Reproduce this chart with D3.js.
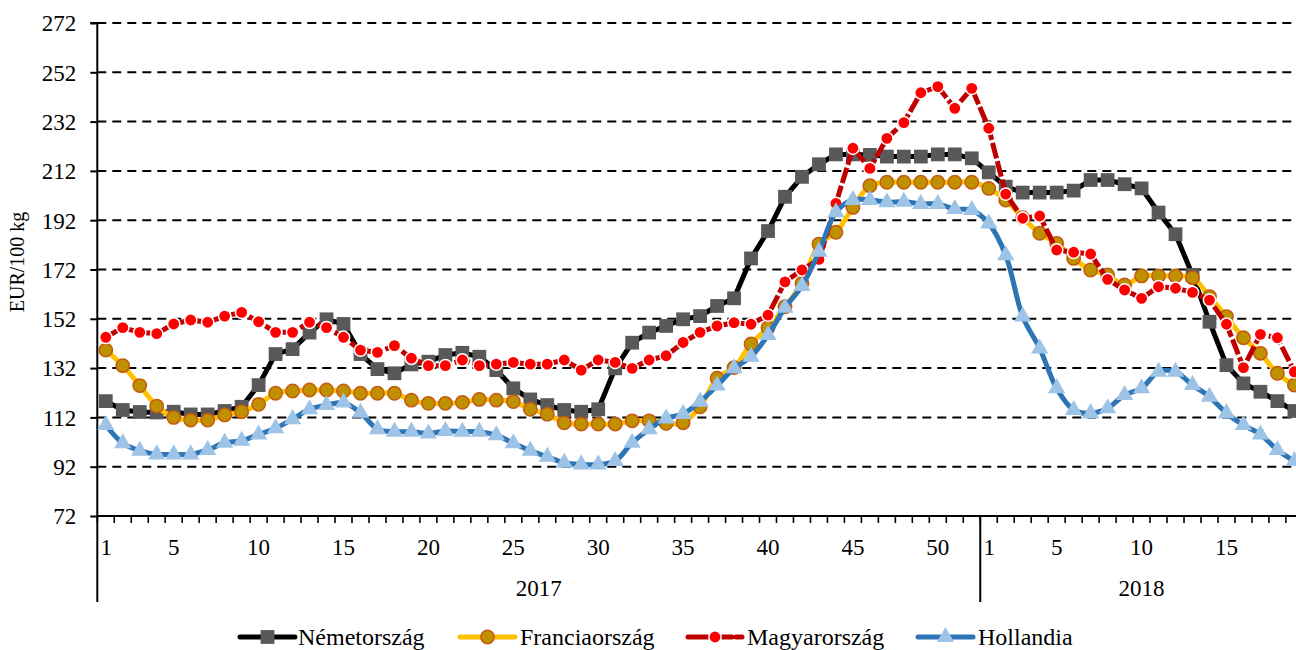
<!DOCTYPE html>
<html>
<head>
<meta charset="utf-8">
<script src="https://cdn.jsdelivr.net/npm/d3@7"></script>
<style>
  html, body { margin: 0; padding: 0; background: #fff; }
  svg { display: block; font-family: "Liberation Serif", "Times New Roman", serif; }
</style>
</head>
<body>
<svg id="chart" width="1296" height="650"></svg>
<script>
// ---- DATA ----
const years = ["2017", "2018"];
const weeks2017 = [1,2,3,4,5,6,7,8,9,10,11,12,13,14,15,16,17,18,19,20,21,22,23,24,25,26,27,28,29,30,31,32,33,34,35,36,37,38,39,40,41,42,43,44,45,46,47,48,49,50,51,52];
const weeks2018 = [1,2,3,4,5,6,7,8,9,10,11,12,13,14,15,16,17,18,19];
const xTickLabels = [1,5,10,15,20,25,30,35,40,45,50];
const yTicks = [72,92,112,132,152,172,192,212,232,252,272];

const nemetorszag = [
  118.6,115.0,114.2,114.0,114.3,113.2,113.2,114.6,116.3,125.1,137.7,139.7,146.4,151.8,149.9,137.7,131.6,129.9,133.5,134.6,137.3,138.2,136.6,131.2,123.8,119.3,117.0,115.0,114.3,115.3,131.9,142.3,146.4,149.1,151.8,153.1,157.2,160.3,176.5,187.6,201.5,209.6,214.7,218.7,218.7,218.5,217.8,217.8,217.8,218.7,218.7,217.1,
  211.4,205.6,203.2,203.2,203.2,204.0,208.3,208.3,206.6,204.9,195.1,186.3,169.8,150.8,133.2,125.8,122.4,118.6,114.6
];
const franciaorszag = [
  139.3,133.0,124.9,116.6,112.0,110.9,110.9,113.0,114.3,117.3,121.8,122.7,123.1,123.1,122.7,121.8,121.8,121.8,119.0,117.7,117.7,118.1,119.3,119.0,118.4,115.3,113.3,109.8,109.3,109.3,109.3,110.6,110.6,109.6,109.8,116.3,127.9,132.2,141.8,148.4,156.9,166.4,182.3,187.1,197.2,206.0,207.4,207.4,207.4,207.4,207.4,207.4,
  204.9,200.2,193.0,186.7,182.6,176.5,171.8,169.8,165.7,169.4,169.4,169.4,168.7,161.0,152.9,144.3,138.0,129.9,125.1
];
const magyarorszag = [
  144.5,148.4,146.5,146.0,149.9,151.5,150.6,153.1,154.6,150.8,146.5,146.5,150.6,148.4,144.5,139.3,138.4,141.1,136.0,133.0,133.0,135.3,133.0,133.6,134.3,133.6,133.6,135.3,131.2,135.3,134.3,131.9,135.3,137.0,142.4,146.5,149.1,150.4,149.8,153.5,167.0,171.8,176.1,198.8,221.2,213.0,225.2,231.6,243.7,246.2,237.4,245.5,
  229.3,202.6,192.8,193.7,179.9,179.0,178.3,168.0,163.7,160.3,165.0,164.4,162.7,159.6,149.8,132.2,145.7,144.3,130.5
];
const hollandia = [
  108.9,101.5,98.5,97.0,97.0,97.0,98.8,101.7,102.5,105.1,107.6,111.3,115.3,117.0,118.0,113.9,107.2,106.2,106.2,105.5,106.5,106.2,106.2,104.8,101.5,98.5,96.0,93.6,92.9,92.9,94.3,101.7,107.2,111.6,113.4,118.4,124.9,131.9,136.6,145.4,156.5,165.3,179.2,195.2,200.2,200.2,199.3,199.5,198.6,198.6,196.5,196.1,
  190.7,177.8,152.9,140.0,123.8,115.0,113.7,115.7,121.1,123.8,130.5,130.5,125.1,120.4,113.7,108.9,105.1,98.8,94.3
];
const seriesNames = ["Németország", "Franciaország", "Magyarország", "Hollandia"];

// ---- LAYOUT ----
const svg = d3.select("#chart");
const plotLeft = 97.3, plotTop = 23, plotBottom = 516, band = 16.98;
const tickFont = 23, legendFont = 24;

const categories = [
  ...weeks2017.map(w => ({year: years[0], week: w})),
  ...weeks2018.map(w => ({year: years[1], week: w}))
];
const idx = categories.map((c, i) => i);

const x = d3.scaleBand().domain(idx).range([plotLeft, plotLeft + categories.length * band]).padding(0);
const xc = i => x(i) + x.bandwidth() / 2;
const y = d3.scaleLinear().domain([72, 272]).range([plotBottom, plotTop]);
const plotRight = x.range()[1];

// gridlines
svg.append("g").selectAll("line")
  .data(yTicks.filter(t => t !== 72))
  .join("line")
  .attr("x1", plotLeft).attr("x2", plotRight)
  .attr("y1", d => y(d)).attr("y2", d => y(d))
  .attr("stroke", "#000").attr("stroke-width", 2)
  .attr("stroke-dasharray", "9,6");

// y axis
const yAxis = svg.append("g")
  .attr("transform", `translate(${plotLeft},0)`)
  .call(d3.axisLeft(y).tickValues(yTicks).tickSize(7).tickPadding(14).tickFormat(d3.format("d")));
yAxis.select(".domain").attr("stroke", "#000").attr("stroke-width", 2).attr("d", `M-7,${y(272)}H0V${y(72)}`);
yAxis.selectAll(".tick line").attr("stroke", "#000").attr("stroke-width", 2);
yAxis.selectAll(".tick text").attr("font-size", tickFont).attr("fill", "#000")
  .attr("font-family", "'Liberation Serif', 'Times New Roman', serif").attr("dy", "0.34em");

// x axis line
svg.append("line")
  .attr("x1", plotLeft).attr("x2", plotRight)
  .attr("y1", plotBottom).attr("y2", plotBottom)
  .attr("stroke", "#000").attr("stroke-width", 2);

// category boundary ticks
const boundaries = idx.map(i => x(i)).concat([plotRight]);
svg.append("g").selectAll("line")
  .data(boundaries)
  .join("line")
  .attr("x1", d => d).attr("x2", d => d)
  .attr("y1", plotBottom).attr("y2", plotBottom + 7)
  .attr("stroke", "#000").attr("stroke-width", 1.6);

// week labels
svg.append("g").selectAll("text")
  .data(idx.filter(i => xTickLabels.includes(categories[i].week)))
  .join("text")
  .attr("x", i => xc(i) + (categories[i].week === 1 ? 0.5 : 0))
  .attr("y", 555)
  .attr("text-anchor", "middle")
  .attr("font-size", tickFont)
  .text(i => categories[i].week);

// year separators & labels
const yearStart = years.map(yr => idx.find(i => categories[i].year === yr));
const yearEnd = years.map(yr => { const a = idx.filter(i => categories[i].year === yr); return a[a.length - 1]; });
svg.append("g").selectAll("line")
  .data(yearStart)
  .join("line")
  .attr("x1", i => x(i)).attr("x2", i => x(i))
  .attr("y1", plotBottom).attr("y2", 602)
  .attr("stroke", "#000").attr("stroke-width", 2);
svg.append("g").selectAll("text")
  .data(years)
  .join("text")
  .attr("x", (yr, k) => (x(yearStart[k]) + x(yearEnd[k]) + x.bandwidth()) / 2)
  .attr("y", 596)
  .attr("text-anchor", "middle")
  .attr("font-size", tickFont)
  .text(d => d);

// y title
svg.append("text")
  .attr("transform", `translate(24,262) rotate(-90)`)
  .attr("text-anchor", "middle")
  .attr("font-size", 20)
  .text("EUR/100 kg");

// ---- SERIES ----
const styles = [
  {data: nemetorszag, line: "#000000", dash: null, curve: d3.curveLinear,
   symbol: d3.symbolSquare, size: 190, fill: "#595959", stroke: "none", sw: 0},
  {data: franciaorszag, line: "#FFC000", dash: null, curve: d3.curveCatmullRom,
   symbol: d3.symbolCircle, size: 140, fill: "#BF9000", stroke: "#C55A11", sw: 1.5},
  {data: magyarorszag, line: "#C00000", dash: "16,3", curve: d3.curveLinear,
   symbol: d3.symbolCircle, size: 120, fill: "#FF0000", stroke: "#FFFFFF", sw: 1.5},
  {data: hollandia, line: "#2E75B6", dash: null, curve: d3.curveCatmullRom,
   symbol: d3.symbolTriangle, size: 130, fill: "#9DC3E6", stroke: "none", sw: 0}
];

styles.forEach(s => {
  const g = svg.append("g");
  const line = d3.line().x((d, i) => xc(i)).y(d => y(d)).curve(s.curve);
  g.append("path")
    .attr("d", line(s.data))
    .attr("fill", "none")
    .attr("stroke", s.line)
    .attr("stroke-width", 5)
    .attr("stroke-linejoin", "round")
    .attr("stroke-dasharray", s.dash);
  g.selectAll("path.m")
    .data(s.data)
    .join("path")
    .attr("class", "m")
    .attr("transform", (d, i) => `translate(${xc(i)},${y(d)})`)
    .attr("d", d3.symbol().type(s.symbol).size(s.size)())
    .attr("fill", s.fill)
    .attr("stroke", s.stroke)
    .attr("stroke-width", s.sw);
});

// ---- LEGEND ----
const legendPos = [
  {x1: 240, x2: 295, tx: 298},
  {x1: 460, x2: 515, tx: 520},
  {x1: 688, x2: 742, tx: 747},
  {x1: 918, x2: 973, tx: 978}
];
const ly = 637;
styles.forEach((s, k) => {
  const p = legendPos[k];
  const g = svg.append("g");
  g.append("line")
    .attr("x1", p.x1).attr("x2", p.x2).attr("y1", ly).attr("y2", ly)
    .attr("stroke", s.line).attr("stroke-width", 5)
    .attr("stroke-linecap", "round")
    .attr("stroke-dasharray", s.dash ? "20,4" : null);
  g.append("path")
    .attr("transform", `translate(${(p.x1 + p.x2) / 2},${ly})`)
    .attr("d", d3.symbol().type(s.symbol).size(s.size)())
    .attr("fill", s.fill).attr("stroke", s.stroke).attr("stroke-width", s.sw);
  g.append("text")
    .attr("x", p.tx).attr("y", 645)
    .attr("font-size", legendFont)
    .text(seriesNames[k]);
});
</script>
</body>
</html>
